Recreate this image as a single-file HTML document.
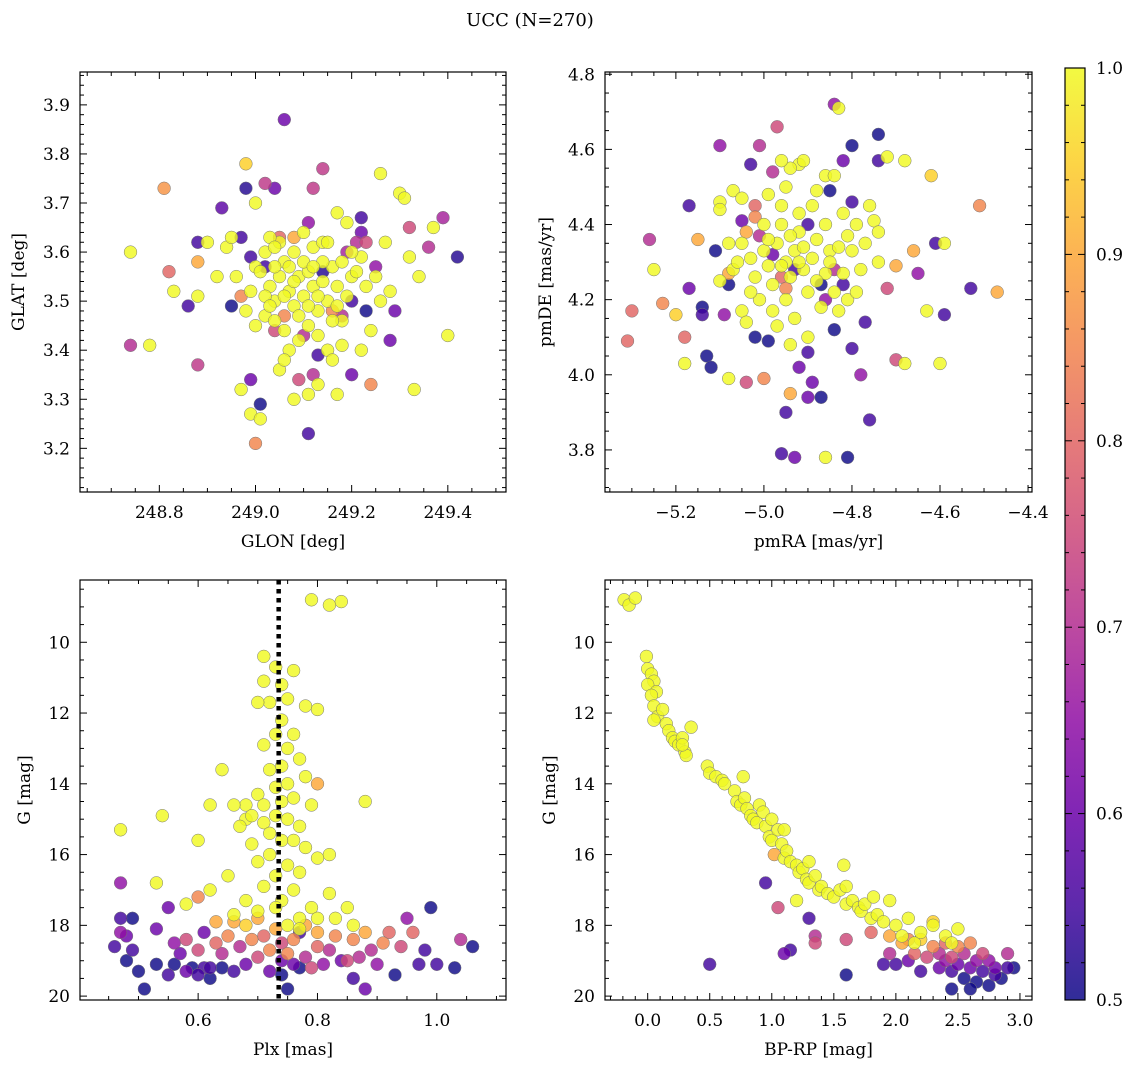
<!DOCTYPE html>
<html><head><meta charset="utf-8"><style>
html,body{margin:0;padding:0;background:#fff;}
svg{display:block;font-family:"DejaVu Serif","Liberation Serif",serif;}
</style></head><body>
<svg id="fig" width="1136" height="1068" viewBox="0 0 1136 1068" xmlns="http://www.w3.org/2000/svg">
<defs>
<linearGradient id="plasma" x1="0" y1="1" x2="0" y2="0">
<stop offset="0" stop-color="#0d0887"/><stop offset="0.1" stop-color="#41049d"/><stop offset="0.2" stop-color="#6a00a8"/><stop offset="0.3" stop-color="#8f0da4"/><stop offset="0.4" stop-color="#b12a90"/><stop offset="0.5" stop-color="#cc4778"/><stop offset="0.6" stop-color="#e16462"/><stop offset="0.7" stop-color="#f2844b"/><stop offset="0.8" stop-color="#fca636"/><stop offset="0.9" stop-color="#fcce25"/><stop offset="1" stop-color="#f0f921"/>
</linearGradient>
</defs>
<text x="530" y="26" font-size="18" text-anchor="middle">UCC (N=270)</text>
</svg>
<script>
const panel1Stars=[[248.74,3.60,1],[248.74,3.41,0.7],[248.78,3.41,1],[248.81,3.73,0.87],[248.82,3.56,0.8],[248.83,3.52,1],[248.86,3.49,0.55],[248.88,3.62,0.55],[248.88,3.58,0.9],[248.88,3.51,1],[248.88,3.37,0.72],[248.90,3.62,1],[248.92,3.55,1],[248.93,3.69,0.58],[248.94,3.61,1],[248.95,3.63,1],[248.95,3.49,0.5],[248.97,3.63,0.55],[248.97,3.32,1],[248.97,3.51,0.85],[248.98,3.73,0.52],[248.98,3.78,0.95],[248.99,3.59,0.55],[248.99,3.34,0.6],[248.99,3.27,1],[249.00,3.70,1],[249.00,3.21,0.85],[249.01,3.29,0.5],[249.01,3.26,1],[249.02,3.74,0.72],[249.04,3.73,0.6],[249.06,3.87,0.6],[249.05,3.36,1],[249.08,3.30,1],[249.09,3.34,0.75],[249.11,3.23,0.55],[249.11,3.31,1],[249.12,3.73,0.72],[249.14,3.77,0.72],[249.13,3.33,1],[249.15,3.40,1],[249.17,3.31,1],[249.20,3.35,0.6],[249.22,3.67,0.55],[249.24,3.33,0.85],[249.26,3.76,1],[249.28,3.42,0.6],[249.29,3.48,0.6],[249.30,3.72,1],[249.31,3.71,1],[249.32,3.65,0.75],[249.32,3.59,1],[249.33,3.32,1],[249.34,3.55,1],[249.36,3.61,0.7],[249.37,3.65,1],[249.39,3.67,0.68],[249.40,3.43,1],[249.42,3.59,0.52],[249.21,3.62,0.7],[249.23,3.62,0.75],[249.19,3.60,0.68],
[249.00,3.57,1],[249.02,3.60,1],[249.03,3.53,1],[249.04,3.50,1],[249.05,3.55,1],[249.06,3.58,1],[249.07,3.52,1],[249.08,3.49,1],[249.09,3.55,1],[249.10,3.51,1],[249.11,3.56,1],[249.12,3.53,1],[249.13,3.48,1],[249.14,3.54,1],[249.15,3.50,1],[249.16,3.57,1],[249.17,3.53,1],[249.18,3.46,1],[249.19,3.51,1],[249.20,3.55,1],[249.02,3.47,1],[249.04,3.46,1],[249.06,3.44,1],[249.08,3.54,1],[249.10,3.58,1],[249.12,3.61,1],[249.14,3.62,1],[249.05,3.62,1],[249.03,3.63,1],[249.01,3.56,1],[248.99,3.52,1],[248.98,3.48,1],[249.00,3.45,1],[249.07,3.40,1],[249.09,3.42,1],[249.11,3.45,1],[249.13,3.43,1],[249.16,3.46,1],[249.18,3.58,1],[249.21,3.56,1],[249.23,3.53,1],[249.25,3.55,1],[249.26,3.50,1],[249.28,3.52,1],[249.22,3.59,1],[249.20,3.60,1],[249.19,3.66,1],[249.17,3.68,1],[249.15,3.62,1],[249.07,3.57,1],[249.06,3.51,1],[249.04,3.57,1],[249.13,3.51,1],[249.11,3.49,1],[249.09,3.47,1],[249.24,3.44,1],[249.22,3.40,1],[249.18,3.41,1],[249.16,3.38,1],[249.06,3.38,1],[249.04,3.61,1],[249.02,3.51,1],[248.96,3.55,1],[249.10,3.64,1],[249.14,3.58,1],[249.27,3.62,1],[249.03,3.49,1],[249.08,3.60,1],[249.12,3.57,1],[249.17,3.49,1],
[249.13,3.39,0.55],[249.14,3.56,0.52],[249.20,3.50,0.55],[249.23,3.48,0.5],[249.25,3.57,0.65],[249.18,3.47,0.7],[249.10,3.43,0.7],[249.04,3.44,0.75],[249.02,3.57,0.55],[249.16,3.48,0.85],[249.06,3.47,0.85],[249.08,3.63,0.9],[249.05,3.63,0.8],[249.12,3.35,0.7],[249.11,3.66,0.65],[249.22,3.64,0.6]];

const panel2Stars=[[-5.31,4.09,0.8],[-5.30,4.17,0.8],[-5.26,4.36,0.7],[-5.25,4.28,1],[-5.23,4.19,0.85],[-5.20,4.16,0.95],[-5.18,4.03,1],[-5.18,4.10,0.8],[-5.17,4.45,0.55],[-5.17,4.23,0.6],[-5.15,4.36,0.9],[-5.14,4.16,0.55],[-5.14,4.18,0.5],[-5.13,4.05,0.5],[-5.12,4.02,0.5],[-5.11,4.33,0.5],[-5.10,4.61,0.65],[-5.10,4.46,1],[-5.09,4.16,0.65],[-5.08,4.24,0.5],[-5.08,3.99,1],[-5.07,4.49,1],[-5.07,4.28,1],[-5.05,4.17,1],[-5.04,3.98,0.75],[-5.03,4.56,0.55],[-5.02,4.10,0.5],[-5.01,4.61,0.7],[-5.00,3.99,0.85],[-4.99,4.09,0.5],[-4.98,4.54,0.7],[-4.97,4.66,0.75],[-4.96,3.79,0.55],[-4.95,3.90,0.55],[-4.94,3.95,0.9],[-4.93,3.78,0.6],[-4.92,4.02,0.6],[-4.90,4.06,0.55],[-4.90,3.94,0.6],[-4.89,3.98,0.6],[-4.87,3.94,0.5],[-4.86,3.78,1],[-4.84,4.72,0.65],[-4.83,4.71,1],[-4.84,4.12,0.5],[-4.82,4.57,0.6],[-4.81,3.78,0.5],[-4.80,4.07,0.55],[-4.80,4.61,0.5],[-4.78,4.00,0.65],[-4.77,4.14,0.55],[-4.76,3.88,0.55],[-4.74,4.57,0.55],[-4.74,4.64,0.5],[-4.72,4.58,1],[-4.72,4.23,0.75],[-4.70,4.29,0.9],[-4.70,4.04,0.75],[-4.68,4.03,1],[-4.68,4.57,1],[-4.66,4.33,0.9],[-4.65,4.27,0.65],[-4.63,4.17,1],[-4.62,4.53,0.95],[-4.61,4.35,0.55],[-4.60,4.03,1],[-4.59,4.35,1],[-4.59,4.16,0.55],[-4.53,4.23,0.55],[-4.51,4.45,0.85],[-4.47,4.22,0.9],[-4.85,4.49,0.5],[-4.80,4.46,0.55],[-4.79,4.40,1],[-4.76,4.45,1],[-4.75,4.41,1],[-4.74,4.38,1],[-4.78,4.28,1],[-4.74,4.30,1],[-5.08,4.27,0.9],[-5.04,4.38,0.9],[-5.02,4.42,0.85],[-4.92,4.56,1],[-4.91,4.57,1],[-4.94,4.55,1],[-4.96,4.57,1],[-4.99,4.48,1],[-5.05,4.47,1],[-4.86,4.53,1],[-4.84,4.53,1],[-4.82,4.43,1],
[-4.93,4.28,0.55],[-4.87,4.24,0.5],[-4.98,4.32,0.6],[-5.01,4.37,0.7],[-4.90,4.40,0.55],[-4.84,4.28,0.7],[-4.95,4.23,0.85],[-5.02,4.45,0.8],[-4.86,4.20,0.65],[-5.05,4.41,0.6],[-4.82,4.24,0.55],[-4.96,4.26,0.8],
[-4.95,4.30,1],[-4.93,4.33,1],[-4.91,4.28,1],[-4.97,4.35,1],[-4.89,4.31,1],[-4.94,4.26,1],[-4.92,4.38,1],[-4.96,4.40,1],[-4.88,4.36,1],[-4.99,4.29,1],[-5.00,4.33,1],[-4.86,4.27,1],[-4.90,4.22,1],[-4.95,4.20,1],[-4.98,4.24,1],[-5.02,4.26,1],[-5.03,4.31,1],[-4.85,4.33,1],[-4.84,4.22,1],[-4.87,4.18,1],[-4.93,4.15,1],[-4.97,4.13,1],[-5.01,4.20,1],[-5.05,4.35,1],[-4.96,4.45,1],[-4.92,4.43,1],[-4.89,4.45,1],[-4.86,4.40,1],[-4.83,4.34,1],[-4.82,4.27,1],[-4.81,4.20,1],[-4.83,4.17,1],[-4.90,4.10,1],[-4.94,4.08,1],[-5.00,4.40,1],[-5.03,4.22,1],[-5.06,4.30,1],[-5.08,4.35,1],[-4.98,4.17,1],[-4.91,4.34,1],[-4.94,4.37,1],[-4.88,4.25,1],[-4.96,4.29,1],[-4.92,4.30,1],[-4.99,4.36,1],[-4.85,4.30,1],[-4.79,4.22,1],[-4.80,4.33,1],[-4.77,4.35,1],[-5.04,4.14,1],[-5.10,4.25,1],[-5.10,4.44,1],[-4.95,4.50,1],[-4.88,4.49,1],[-4.81,4.37,1]];

const panel3Stars=[[0.79,8.8,1],[0.82,8.95,1],[0.84,8.85,1],[0.71,10.4,1],[0.73,10.7,1],[0.76,10.8,1],[0.74,11.2,1],[0.71,11.1,1],[0.72,11.7,1],[0.75,11.6,1],[0.78,11.8,1],[0.80,11.9,1],[0.70,11.7,1],[0.74,12.2,1],[0.73,12.6,1],[0.76,12.6,1],[0.71,12.9,1],[0.75,13.0,1],[0.77,13.3,1],[0.74,13.5,1],[0.72,13.6,1],[0.78,13.8,1],[0.64,13.6,1],[0.75,14.0,1],[0.73,14.1,1],[0.70,14.3,1],[0.68,14.6,1],[0.71,14.6,1],[0.74,14.5,1],[0.76,14.4,1],[0.79,14.6,1],[0.66,14.6,1],[0.62,14.6,1],[0.73,14.9,1],[0.75,15.0,1],[0.77,15.2,1],[0.71,15.1,1],[0.68,15.0,1],[0.72,15.4,1],[0.74,15.6,1],[0.69,15.7,1],[0.76,15.6,1],[0.78,15.8,1],[0.60,15.6,1],[0.72,16.0,1],[0.70,16.2,1],[0.75,16.3,1],[0.77,16.5,1],[0.80,16.1,1],[0.82,16.0,1],[0.73,16.6,1],[0.65,16.6,1],[0.71,16.9,1],[0.76,17.0,1],[0.74,17.3,1],[0.68,17.3,1],[0.82,17.1,1],[0.62,17.0,1],[0.58,17.4,1],[0.79,17.5,1],[0.85,17.5,1],[0.70,17.6,1],[0.77,17.8,1],[0.73,17.5,1],[0.80,17.8,1],[0.88,14.5,1],[0.80,14.0,0.9],[0.47,15.3,1],[0.54,14.9,1],[0.53,16.8,1],[0.69,14.9,1],[0.67,15.2,1],[0.77,18.1,1],[0.83,17.8,1],[0.86,18.0,1],[0.66,17.7,1],[0.75,18.0,1],
[0.46,18.6,0.55],[0.47,17.8,0.55],[0.47,18.2,0.65],[0.48,19.0,0.5],[0.48,18.3,0.6],[0.47,16.8,0.65],[0.49,18.7,0.55],[0.49,17.8,0.5],[0.50,19.3,0.5],[0.51,19.8,0.5],[0.53,18.1,0.6],[0.53,19.1,0.5],[0.55,17.5,0.6],[0.56,18.5,0.65],[0.56,19.1,0.5],[0.57,18.8,0.6],[0.58,18.4,0.75],[0.58,19.3,0.6],[0.59,19.2,0.5],[0.60,18.7,0.75],[0.60,17.2,0.85],[0.61,19.2,0.55],[0.61,18.2,0.6],[0.62,19.5,0.5],[0.62,19.2,0.55],[0.63,18.5,0.8],[0.63,17.9,0.9],[0.64,19.2,0.5],[0.64,18.8,0.7],[0.65,18.3,0.85],[0.66,17.9,0.9],[0.66,19.3,0.55],[0.67,18.6,0.7],[0.68,18.0,0.95],[0.68,19.1,0.6],[0.69,18.4,0.85],[0.70,18.9,0.75],[0.70,17.8,0.9],[0.71,18.3,0.8],[0.72,19.3,0.6],[0.72,18.7,0.85],[0.73,18.1,0.9],[0.74,19.0,0.6],[0.74,19.4,0.5],[0.74,18.5,0.75],[0.75,18.8,0.85],[0.75,19.8,0.5],[0.76,18.4,0.85],[0.76,19.1,0.6],[0.77,18.2,0.55],[0.77,19.2,0.5],[0.78,18.9,0.7],[0.78,18.0,0.9],[0.79,19.2,0.75],[0.80,18.6,0.8],[0.80,18.2,0.9],[0.81,19.1,0.65],[0.82,18.7,0.7],[0.83,18.3,0.85],[0.84,19.0,0.6],[0.85,19.0,0.75],[0.86,18.4,0.85],[0.86,19.5,0.55],[0.87,18.9,0.7],[0.88,19.8,0.6],[0.88,18.2,0.9],[0.89,18.7,0.7],[0.90,19.1,0.65],[0.91,18.5,0.85],[0.92,18.2,0.8],[0.93,19.4,0.5],[0.94,18.6,0.75],[0.95,17.8,0.65],[0.96,18.2,0.8],[0.97,19.1,0.55],[0.98,18.7,0.55],[0.99,17.5,0.5],[1.00,19.1,0.55],[1.03,19.2,0.5],[1.04,18.4,0.7],[1.06,18.6,0.5],[0.55,19.4,0.55],[0.60,19.4,0.55]];

const panel4Stars=[[-0.19,8.8,1],[-0.15,8.95,1],[-0.1,8.75,1],[-0.01,10.4,1],[0.0,10.75,1],[0.03,10.9,1],[0.05,11.1,1],[0.0,11.2,1],[0.07,11.4,1],[0.03,11.5,1],[0.05,11.8,1],[0.08,12.1,1],[0.05,12.2,1],[0.12,11.9,1],[0.15,12.3,1],[0.17,12.5,1],[0.2,12.7,1],[0.22,12.8,1],[0.25,12.9,1],[0.28,12.7,1],[0.3,13.1,1],[0.31,13.2,1],[0.28,12.9,1],[0.35,12.4,1],[0.48,13.5,1],[0.5,13.7,1],[0.55,13.8,1],[0.6,13.9,1],[0.62,14.0,1],[0.7,14.2,1],[0.72,14.5,1],[0.75,14.6,1],[0.78,14.4,1],[0.8,14.7,1],[0.83,14.9,1],[0.85,15.0,1],[0.88,15.1,1],[0.9,14.6,1],[0.93,14.8,1],[0.95,15.2,1],[0.98,15.5,1],[1.0,15.6,1],[1.0,15.0,1],[1.02,16.0,0.9],[1.05,15.3,1],[1.08,15.7,1],[1.1,16.1,1],[1.12,15.9,1],[1.15,16.2,1],[1.2,16.3,1],[1.22,16.5,1],[1.25,16.4,1],[1.28,16.7,1],[1.3,16.8,1],[1.35,16.6,1],[1.38,17.0,1],[1.4,16.9,1],[1.45,17.1,1],[1.5,17.2,1],[1.55,17.0,1],[1.58,16.3,1],[1.6,17.4,1],[1.65,17.3,1],[1.7,17.5,1],[1.72,17.6,1],[1.75,17.4,1],[1.8,17.8,1],[1.82,17.2,1],[1.85,17.7,1],[1.9,17.9,1],[1.95,17.3,1],[2.0,18.0,1],[2.05,18.3,1],[2.1,17.8,1],[2.15,18.5,1],[2.2,18.2,1],[1.2,17.3,1],[1.3,16.2,1],[0.77,13.8,1],[1.1,15.3,1],[1.6,16.9,1],[2.3,18.0,1],[2.4,18.3,1],[2.45,18.5,1],[2.5,18.1,1],
[1.95,18.3,0.9],[2.05,18.5,0.9],[2.15,18.8,0.8],[2.2,18.4,0.95],[2.25,18.9,0.75],[2.3,18.6,0.85],[2.3,17.9,0.95],[2.35,18.8,0.7],[2.35,19.2,0.6],[2.4,18.5,0.8],[2.4,19.0,0.65],[2.45,19.3,0.55],[2.45,18.9,0.75],[2.5,18.6,0.85],[2.5,19.1,0.6],[2.55,18.8,0.7],[2.55,19.5,0.5],[2.6,19.2,0.6],[2.6,18.5,0.85],[2.65,19.0,0.65],[2.65,19.6,0.5],[2.7,19.3,0.55],[2.7,18.8,0.75],[2.75,19.7,0.5],[2.75,19.0,0.65],[2.8,19.4,0.55],[2.8,19.2,0.6],[2.85,19.5,0.5],[2.9,19.2,0.55],[2.9,18.8,0.7],[2.95,19.2,0.5],[2.45,19.8,0.5],[2.6,19.8,0.5],[2.2,19.3,0.55],[2.1,19.0,0.6],[2.0,19.1,0.55],[1.9,19.1,0.55],[1.95,18.8,0.7],[1.6,18.4,0.75],[1.6,19.4,0.5],[1.35,18.3,0.7],[1.35,18.5,0.75],[1.3,17.8,0.55],[1.15,18.7,0.55],[1.05,17.5,0.75],[0.95,16.8,0.55],[0.5,19.1,0.55],[1.1,18.8,0.6],[1.8,18.2,0.8],[2.1,18.4,0.85]];

const plxMean=0.735;
const cbarTicks=["0.5","0.6","0.7","0.8","0.9","1.0"];

const NS="http://www.w3.org/2000/svg";
const svg=document.getElementById('fig');
function mk(tag,attrs,parent){const e=document.createElementNS(NS,tag);for(const k in attrs)e.setAttribute(k,attrs[k]);(parent||svg).appendChild(e);return e;}
const stops=[[13,8,135],[65,4,157],[106,0,168],[143,13,164],[177,42,144],[204,71,120],[225,100,98],[242,132,75],[252,166,54],[252,206,37],[240,249,33]];
function plasma(p){let t=Math.max(0,Math.min(1,(p-0.5)/0.5))*10;const i=Math.min(9,Math.floor(t)),f=t-i;const a=stops[i],b=stops[i+1];return `rgb(${a.map((v,k)=>Math.round(v+(b[k]-v)*f)).join(',')})`;}
function fmt(v,d){return (v<0?'\u2212':'')+Math.abs(v).toFixed(d);}
const FS=17;

function panel(cfg){
  const {name,x0,y0,w,h,xmin,xmax,ymin,ymax,invY,data,xMaj,xMin,yMaj,yMin,xd,yd,xlabel,ylabel}=cfg;
  const g=mk('g',{});
  
  
  const sx=v=>x0+(v-xmin)/(xmax-xmin)*w;
  const sy=v=>invY? y0+(v-ymin)/(ymax-ymin)*h : y0+h-(v-ymin)/(ymax-ymin)*h;
  const clip='clip-'+name;
  const cp=mk('clipPath',{id:clip},g);mk('rect',{x:x0,y:y0,width:w,height:h},cp);
  const pts=mk('g',{'clip-path':`url(#${clip})`},g);
  
  
  const sorted=data.slice().sort((a,b)=>a[2]-b[2]);
  sorted.forEach(d=>{
    const c=mk('circle',{cx:sx(d[0]).toFixed(1),cy:sy(d[1]).toFixed(1),r:6.4,fill:plasma(d[2]),'fill-opacity':0.82,stroke:'#777','stroke-width':0.5},pts);
    
    
  });
  if(cfg.vline!==undefined){
    const l=mk('line',{x1:sx(cfg.vline),x2:sx(cfg.vline),y1:y0,y2:y0+h,stroke:'#000','stroke-width':4.5,'stroke-dasharray':'4.5 4.5'},g);
    
    
  }
  const tg=mk('g',{stroke:'#000','stroke-width':1},g);
  const eps=1e-9;
  for(let i=Math.ceil((xmin-eps)/xMin);i*xMin<=xmax+eps;i++){
    const v=i*xMin;const X=sx(v);const major=Math.abs(v/xMaj-Math.round(v/xMaj))<1e-4;const L=major?7:4;
    mk('line',{x1:X,x2:X,y1:y0+h,y2:y0+h-L},tg);mk('line',{x1:X,x2:X,y1:y0,y2:y0+L},tg);
    if(major){const t=mk('text',{x:X,y:y0+h+26,'font-size':FS,'text-anchor':'middle',stroke:'none'},g);t.textContent=fmt(v,xd);
      
      }
  }
  for(let i=Math.ceil((ymin-eps)/yMin);i*yMin<=ymax+eps;i++){
    const v=i*yMin;const Y=sy(v);const major=Math.abs(v/yMaj-Math.round(v/yMaj))<1e-4;const L=major?7:4;
    mk('line',{x1:x0,x2:x0+L,y1:Y,y2:Y},tg);mk('line',{x1:x0+w,x2:x0+w-L,y1:Y,y2:Y},tg);
    if(major){const t=mk('text',{x:x0-10,y:Y+6,'font-size':FS,'text-anchor':'end',stroke:'none'},g);t.textContent=fmt(v,yd);
      
      }
  }
  mk('rect',{x:x0,y:y0,width:w,height:h,fill:'none',stroke:'#000','stroke-width':1.2},g);
  const xl=mk('text',{x:x0+w/2,y:y0+h+55,'font-size':FS,'text-anchor':'middle'},g);xl.textContent=xlabel;
  
  
  const yx=x0-cfg.ylo, yy=y0+h/2;
  const yl=mk('text',{x:yx,y:yy,'font-size':FS,'text-anchor':'middle',transform:`rotate(-90 ${yx} ${yy})`},g);yl.textContent=ylabel;
  
  
}

panel({name:'glon-glat-panel',x0:80,y0:72,w:426,h:420,xmin:248.635,xmax:249.521,ymin:3.111,ymax:3.967,data:panel1Stars,xMaj:0.2,xMin:0.05,yMaj:0.1,yMin:0.02,xd:1,yd:1,xlabel:'GLON [deg]',ylabel:'GLAT [deg]',ylo:56});
panel({name:'pm-panel',x0:605,y0:72,w:427,h:420,xmin:-5.361,xmax:-4.391,ymin:3.688,ymax:4.806,data:panel2Stars,xMaj:0.2,xMin:0.05,yMaj:0.2,yMin:0.05,xd:1,yd:1,xlabel:'pmRA [mas/yr]',ylabel:'pmDE [mas/yr]',ylo:54});
panel({name:'plx-g-panel',x0:80,y0:580,w:426,h:420,xmin:0.402,xmax:1.116,ymin:8.24,ymax:20.11,invY:true,data:panel3Stars,xMaj:0.2,xMin:0.05,yMaj:2,yMin:0.5,xd:1,yd:0,xlabel:'Plx [mas]',ylabel:'G [mag]',ylo:50,vline:plxMean});
panel({name:'cmd-panel',x0:605,y0:580,w:427,h:420,xmin:-0.344,xmax:3.097,ymin:8.24,ymax:20.11,invY:true,data:panel4Stars,xMaj:0.5,xMin:0.1,yMaj:2,yMin:0.5,xd:1,yd:0,xlabel:'BP-RP [mag]',ylabel:'G [mag]',ylo:50});

const cb=mk('g',{});


const cbx=1065,cby=68,cbw=20,cbh=932;
mk('rect',{x:cbx,y:cby,width:cbw,height:cbh,fill:'url(#plasma)','fill-opacity':0.85},cb);
mk('rect',{x:cbx,y:cby,width:cbw,height:cbh,fill:'none',stroke:'#000','stroke-width':1.2},cb);
const cy=v=>cby+cbh-(v-0.5)/0.5*cbh;
for(let i=0;i<=25;i++){const v=0.5+i*0.02;const Y=cy(v);const major=i%5===0;
  mk('line',{x1:cbx+cbw,x2:cbx+cbw-(major?7:4),y1:Y,y2:Y,stroke:'#000'},cb);
  mk('line',{x1:cbx,x2:cbx+(major?7:4),y1:Y,y2:Y,stroke:'#000'},cb);}
cbarTicks.forEach(s=>{const Y=cy(parseFloat(s));const t=mk('text',{x:cbx+cbw+11,y:Y+6,'font-size':FS},cb);t.textContent=s;
  
  });
</script>
</body></html>
